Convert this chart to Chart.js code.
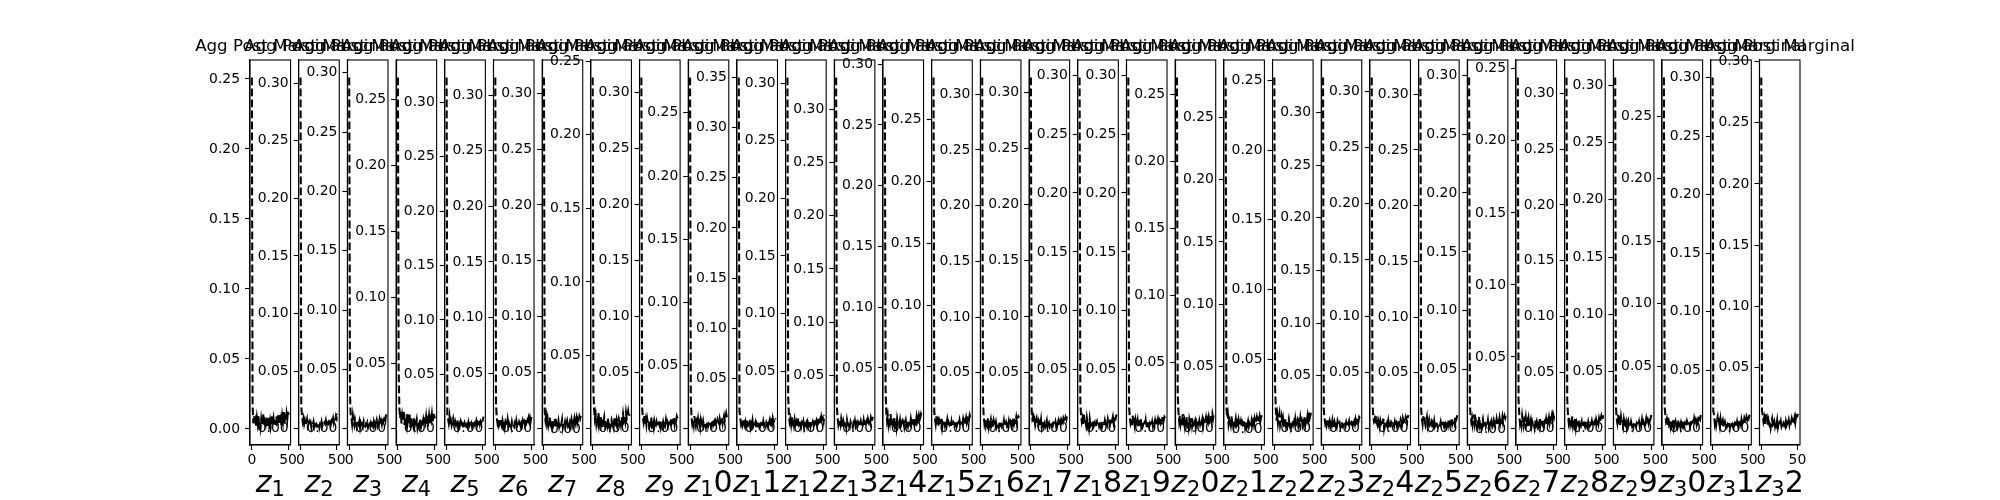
<!DOCTYPE html>
<html><head><meta charset="utf-8">
<script src="https://cdn.jsdelivr.net/npm/chart.js@4.4.0/dist/chart.umd.min.js"></script>
<style>
html,body{margin:0;padding:0;background:#fff;}
#fig{position:relative;width:2000px;height:500px;overflow:hidden;background:#fff;}
#fig canvas{position:absolute;top:0;}
</style></head><body><div id="fig"></div>
<script>
// ---- data ----
const panelTitle = 'Agg Post Marginal';
const xTicks = [0, 50];
const xLabels = ['z_1','z_2','z_3','z_4','z_5','z_6','z_7','z_8','z_9','z_10','z_11','z_12','z_13','z_14','z_15','z_16',
                 'z_17','z_18','z_19','z_20','z_21','z_22','z_23','z_24','z_25','z_26','z_27','z_28','z_29','z_30','z_31','z_32'];

const z1 = [0.251,0.018,0.004,0.009,0.003,0.006,0.002,0.008,0.004,0.010,0.003,0.005,0.001,0.007,0.003,0.004,0.011,0.002,0.005,0.003,0.008,0.002,0.004,0.009,0.003,0.006,0.001,0.004,0.010,0.003,0.007,0.002,0.005,0.004,0.009,0.002,0.006,0.003,0.011,0.004,0.007,0.002,0.009,0.005,0.012,0.004,0.008,0.006,0.011,0.007,0.013,0.010];
const z2 = [0.305,0.020,0.011,0.006,0.009,0.004,0.007,0.003,0.005,0.008,0.002,0.004,0.006,0.003,0.005,0.001,0.004,0.003,0.006,0.002,0.005,0.003,0.004,0.002,0.003,0.005,0.001,0.004,0.003,0.006,0.002,0.004,0.003,0.005,0.004,0.007,0.003,0.005,0.004,0.006,0.005,0.008,0.004,0.007,0.006,0.009,0.005,0.008,0.007,0.011,0.009,0.013];
const z3 = [0.296,0.030,0.012,0.009,0.004,0.011,0.006,0.003,0.008,0.005,0.002,0.007,0.004,0.003,0.006,0.001,0.005,0.003,0.004,0.002,0.006,0.003,0.002,0.004,0.003,0.005,0.001,0.003,0.004,0.002,0.005,0.003,0.004,0.002,0.006,0.003,0.005,0.004,0.007,0.003,0.006,0.004,0.008,0.005,0.007,0.004,0.009,0.006,0.008,0.010,0.007,0.012];
const z4 = [0.267,0.045,0.016,0.008,0.013,0.004,0.010,0.006,0.014,0.003,0.009,0.005,0.011,0.003,0.007,0.004,0.012,0.001,0.008,0.004,0.006,0.003,0.009,0.002,0.005,0.004,0.007,0.001,0.004,0.006,0.003,0.008,0.002,0.005,0.004,0.007,0.003,0.006,0.004,0.009,0.003,0.007,0.005,0.010,0.004,0.008,0.006,0.011,0.005,0.009,0.012,0.008];
const z5 = [0.323,0.012,0.009,0.005,0.011,0.004,0.007,0.003,0.006,0.009,0.004,0.002,0.006,0.003,0.005,0.008,0.001,0.004,0.003,0.006,0.002,0.005,0.003,0.004,0.001,0.005,0.003,0.002,0.004,0.003,0.006,0.002,0.004,0.003,0.005,0.002,0.004,0.006,0.003,0.005,0.004,0.007,0.003,0.006,0.005,0.008,0.004,0.007,0.006,0.009,0.008,0.011];
const z6 = [0.316,0.022,0.010,0.005,0.008,0.003,0.006,0.009,0.004,0.002,0.007,0.003,0.005,0.001,0.006,0.004,0.003,0.008,0.002,0.005,0.003,0.004,0.001,0.006,0.003,0.004,0.002,0.005,0.003,0.007,0.002,0.004,0.003,0.006,0.004,0.002,0.005,0.003,0.007,0.004,0.006,0.003,0.008,0.005,0.007,0.004,0.009,0.006,0.010,0.007,0.011,0.009];
const z7 = [0.314,0.015,0.008,0.012,0.005,0.009,0.003,0.007,0.010,0.004,0.006,0.002,0.008,0.003,0.005,0.009,0.001,0.006,0.004,0.003,0.007,0.002,0.005,0.003,0.004,0.008,0.001,0.005,0.003,0.006,0.002,0.004,0.007,0.003,0.005,0.002,0.006,0.004,0.008,0.003,0.006,0.005,0.009,0.004,0.007,0.010,0.005,0.008,0.006,0.011,0.009,0.012];
const z8 = [0.239,0.026,0.013,0.007,0.010,0.004,0.008,0.005,0.011,0.003,0.006,0.009,0.004,0.007,0.001,0.005,0.008,0.003,0.006,0.004,0.002,0.007,0.003,0.005,0.001,0.004,0.006,0.003,0.005,0.002,0.008,0.004,0.003,0.006,0.002,0.005,0.007,0.004,0.006,0.003,0.008,0.005,0.010,0.006,0.008,0.005,0.011,0.007,0.009,0.012,0.008,0.010];
const z9 = [0.313,0.019,0.010,0.006,0.012,0.004,0.008,0.003,0.009,0.005,0.007,0.002,0.006,0.004,0.010,0.003,0.005,0.001,0.007,0.004,0.003,0.006,0.002,0.004,0.005,0.003,0.007,0.001,0.004,0.003,0.006,0.002,0.005,0.003,0.008,0.004,0.006,0.003,0.007,0.005,0.004,0.009,0.005,0.007,0.006,0.010,0.004,0.008,0.007,0.011,0.009,0.010];
const z10 = [0.278,0.024,0.009,0.004,0.007,0.003,0.010,0.005,0.002,0.006,0.004,0.008,0.003,0.005,0.001,0.007,0.004,0.003,0.006,0.002,0.004,0.005,0.001,0.003,0.006,0.002,0.004,0.003,0.005,0.002,0.004,0.007,0.003,0.005,0.002,0.006,0.004,0.003,0.007,0.005,0.004,0.008,0.005,0.006,0.009,0.004,0.007,0.010,0.006,0.008,0.012,0.009];
const z11 = [0.350,0.017,0.011,0.005,0.008,0.003,0.006,0.010,0.004,0.007,0.002,0.005,0.009,0.003,0.004,0.006,0.001,0.005,0.003,0.008,0.002,0.004,0.003,0.006,0.001,0.005,0.003,0.004,0.002,0.006,0.003,0.005,0.004,0.002,0.007,0.003,0.005,0.004,0.006,0.003,0.008,0.004,0.006,0.009,0.005,0.007,0.004,0.010,0.006,0.008,0.011,0.009];
const z12 = [0.305,0.028,0.012,0.006,0.009,0.004,0.011,0.005,0.007,0.003,0.008,0.004,0.006,0.001,0.005,0.009,0.003,0.004,0.007,0.002,0.005,0.003,0.006,0.001,0.004,0.003,0.005,0.002,0.006,0.004,0.003,0.007,0.002,0.005,0.004,0.006,0.003,0.008,0.004,0.005,0.007,0.003,0.009,0.005,0.006,0.008,0.004,0.010,0.007,0.009,0.006,0.012];
const z13 = [0.330,0.021,0.010,0.004,0.008,0.006,0.003,0.009,0.005,0.002,0.007,0.004,0.003,0.006,0.001,0.008,0.004,0.003,0.005,0.002,0.006,0.003,0.004,0.001,0.005,0.003,0.007,0.002,0.004,0.006,0.003,0.005,0.002,0.004,0.007,0.003,0.005,0.004,0.008,0.003,0.006,0.005,0.007,0.004,0.009,0.006,0.008,0.005,0.010,0.007,0.009,0.011];
const z14 = [0.289,0.033,0.014,0.007,0.011,0.004,0.009,0.005,0.012,0.003,0.008,0.006,0.004,0.010,0.003,0.006,0.001,0.008,0.004,0.005,0.003,0.007,0.002,0.004,0.006,0.003,0.005,0.001,0.004,0.007,0.003,0.005,0.002,0.006,0.004,0.003,0.008,0.004,0.006,0.005,0.009,0.004,0.007,0.005,0.010,0.006,0.008,0.011,0.007,0.009,0.012,0.010];
const z15 = [0.284,0.014,0.008,0.004,0.010,0.003,0.006,0.002,0.007,0.005,0.003,0.008,0.001,0.005,0.004,0.006,0.002,0.004,0.003,0.007,0.002,0.005,0.003,0.004,0.001,0.006,0.003,0.002,0.005,0.004,0.003,0.006,0.002,0.004,0.005,0.003,0.007,0.004,0.005,0.006,0.004,0.008,0.005,0.007,0.006,0.009,0.005,0.008,0.010,0.007,0.011,0.009];
const z16 = [0.315,0.025,0.012,0.005,0.009,0.003,0.007,0.004,0.010,0.002,0.006,0.004,0.008,0.003,0.005,0.001,0.007,0.004,0.003,0.006,0.002,0.005,0.004,0.001,0.006,0.003,0.004,0.002,0.005,0.003,0.007,0.002,0.004,0.006,0.003,0.005,0.002,0.007,0.004,0.006,0.003,0.008,0.005,0.009,0.004,0.007,0.006,0.010,0.005,0.008,0.011,0.010];
const z17 = [0.313,0.016,0.009,0.011,0.005,0.008,0.003,0.006,0.009,0.004,0.002,0.007,0.005,0.003,0.008,0.001,0.004,0.006,0.003,0.005,0.002,0.004,0.007,0.001,0.003,0.005,0.002,0.004,0.006,0.003,0.002,0.005,0.004,0.003,0.006,0.002,0.005,0.004,0.007,0.003,0.006,0.004,0.008,0.006,0.005,0.009,0.007,0.006,0.010,0.008,0.012,0.011];
const z18 = [0.298,0.023,0.011,0.006,0.009,0.004,0.012,0.005,0.007,0.003,0.009,0.004,0.006,0.001,0.008,0.003,0.005,0.004,0.002,0.007,0.003,0.005,0.001,0.004,0.006,0.003,0.005,0.002,0.004,0.003,0.006,0.002,0.005,0.004,0.003,0.007,0.004,0.005,0.003,0.008,0.005,0.006,0.004,0.009,0.006,0.007,0.010,0.005,0.008,0.011,0.009,0.012];
const z19 = [0.298,0.020,0.010,0.005,0.008,0.003,0.011,0.004,0.006,0.002,0.008,0.005,0.003,0.007,0.001,0.005,0.004,0.009,0.003,0.006,0.002,0.004,0.005,0.003,0.007,0.001,0.004,0.003,0.006,0.002,0.005,0.004,0.003,0.006,0.002,0.005,0.004,0.007,0.003,0.006,0.005,0.008,0.004,0.007,0.005,0.009,0.006,0.008,0.011,0.007,0.010,0.009];
const z20 = [0.263,0.027,0.013,0.006,0.010,0.004,0.008,0.003,0.011,0.005,0.007,0.002,0.006,0.009,0.003,0.005,0.001,0.007,0.004,0.003,0.008,0.002,0.005,0.003,0.004,0.006,0.001,0.005,0.003,0.004,0.002,0.006,0.003,0.005,0.004,0.007,0.002,0.006,0.004,0.005,0.008,0.003,0.007,0.005,0.009,0.006,0.008,0.010,0.006,0.011,0.008,0.012];
const z21 = [0.282,0.018,0.009,0.012,0.004,0.008,0.006,0.003,0.010,0.005,0.007,0.002,0.006,0.004,0.008,0.003,0.005,0.001,0.007,0.004,0.003,0.006,0.002,0.005,0.003,0.004,0.007,0.001,0.004,0.005,0.003,0.006,0.002,0.005,0.004,0.003,0.007,0.004,0.006,0.003,0.008,0.005,0.006,0.009,0.005,0.008,0.007,0.010,0.006,0.009,0.011,0.012];
const z22 = [0.252,0.031,0.014,0.006,0.010,0.004,0.008,0.011,0.003,0.006,0.009,0.004,0.007,0.001,0.005,0.008,0.003,0.006,0.002,0.004,0.007,0.003,0.005,0.001,0.004,0.006,0.003,0.005,0.002,0.007,0.003,0.004,0.006,0.002,0.005,0.003,0.008,0.004,0.006,0.003,0.007,0.005,0.009,0.004,0.008,0.006,0.010,0.007,0.012,0.008,0.010,0.013];
const z23 = [0.333,0.019,0.010,0.005,0.008,0.003,0.006,0.009,0.004,0.007,0.002,0.005,0.003,0.008,0.004,0.001,0.006,0.003,0.005,0.002,0.007,0.004,0.003,0.005,0.001,0.004,0.006,0.002,0.003,0.005,0.004,0.002,0.006,0.003,0.005,0.004,0.007,0.002,0.005,0.006,0.004,0.008,0.005,0.007,0.004,0.009,0.006,0.008,0.010,0.007,0.011,0.010];
const z24 = [0.312,0.024,0.012,0.007,0.009,0.004,0.011,0.005,0.003,0.008,0.006,0.002,0.007,0.004,0.005,0.003,0.009,0.001,0.006,0.004,0.003,0.005,0.002,0.007,0.003,0.004,0.001,0.006,0.005,0.003,0.004,0.002,0.006,0.003,0.005,0.002,0.007,0.004,0.005,0.003,0.008,0.006,0.004,0.009,0.006,0.007,0.005,0.010,0.008,0.006,0.011,0.012];
const z25 = [0.315,0.017,0.009,0.004,0.011,0.005,0.007,0.003,0.006,0.010,0.002,0.005,0.008,0.003,0.004,0.006,0.001,0.005,0.003,0.007,0.002,0.004,0.006,0.003,0.001,0.005,0.004,0.003,0.006,0.002,0.004,0.005,0.003,0.007,0.002,0.005,0.004,0.006,0.003,0.008,0.004,0.006,0.005,0.009,0.004,0.007,0.008,0.005,0.010,0.007,0.009,0.012];
const z26 = [0.298,0.022,0.011,0.006,0.009,0.003,0.007,0.012,0.004,0.008,0.005,0.002,0.007,0.004,0.010,0.003,0.006,0.001,0.005,0.008,0.003,0.004,0.006,0.002,0.005,0.003,0.007,0.001,0.004,0.005,0.003,0.006,0.002,0.004,0.007,0.003,0.005,0.004,0.008,0.003,0.006,0.005,0.009,0.004,0.007,0.006,0.010,0.005,0.008,0.011,0.009,0.012];
const z27 = [0.244,0.020,0.010,0.004,0.007,0.003,0.009,0.005,0.002,0.006,0.004,0.008,0.003,0.005,0.001,0.007,0.004,0.003,0.006,0.002,0.005,0.003,0.004,0.001,0.006,0.003,0.005,0.002,0.004,0.003,0.007,0.002,0.005,0.004,0.003,0.006,0.002,0.005,0.004,0.007,0.003,0.006,0.005,0.008,0.004,0.007,0.006,0.009,0.005,0.010,0.008,0.011];
const z28 = [0.314,0.026,0.013,0.006,0.010,0.004,0.008,0.005,0.011,0.003,0.007,0.004,0.009,0.001,0.006,0.004,0.003,0.008,0.002,0.005,0.003,0.006,0.001,0.004,0.005,0.003,0.007,0.002,0.004,0.003,0.006,0.002,0.005,0.003,0.004,0.007,0.003,0.005,0.004,0.006,0.003,0.008,0.005,0.007,0.004,0.009,0.006,0.008,0.011,0.007,0.010,0.012];
const z29 = [0.307,0.021,0.009,0.005,0.012,0.004,0.007,0.003,0.010,0.005,0.006,0.002,0.008,0.004,0.003,0.006,0.001,0.005,0.007,0.003,0.004,0.002,0.006,0.003,0.005,0.001,0.004,0.006,0.003,0.002,0.005,0.004,0.003,0.006,0.002,0.005,0.004,0.008,0.003,0.006,0.004,0.007,0.005,0.009,0.006,0.008,0.005,0.010,0.007,0.009,0.012,0.010];
const z30 = [0.281,0.018,0.011,0.006,0.008,0.003,0.010,0.004,0.006,0.002,0.007,0.005,0.003,0.008,0.001,0.004,0.006,0.003,0.005,0.002,0.007,0.003,0.004,0.001,0.005,0.003,0.006,0.002,0.004,0.005,0.003,0.002,0.006,0.004,0.003,0.005,0.002,0.007,0.004,0.005,0.006,0.003,0.008,0.005,0.007,0.004,0.009,0.006,0.010,0.008,0.007,0.011];
const z31 = [0.300,0.015,0.012,0.005,0.009,0.003,0.007,0.010,0.004,0.006,0.002,0.008,0.003,0.005,0.007,0.001,0.004,0.006,0.003,0.005,0.002,0.004,0.003,0.006,0.001,0.005,0.003,0.004,0.002,0.006,0.003,0.005,0.004,0.002,0.006,0.003,0.007,0.004,0.005,0.003,0.008,0.005,0.006,0.004,0.009,0.007,0.005,0.010,0.008,0.011,0.009,0.012];
const z32 = [0.287,0.015,0.011,0.006,0.009,0.004,0.012,0.005,0.008,0.003,0.007,0.004,0.006,0.001,0.005,0.008,0.003,0.004,0.006,0.002,0.005,0.003,0.007,0.001,0.004,0.005,0.003,0.006,0.002,0.004,0.003,0.005,0.004,0.002,0.006,0.003,0.005,0.004,0.007,0.003,0.006,0.005,0.008,0.004,0.007,0.006,0.009,0.005,0.010,0.008,0.011,0.012];

const series = [z1,z2,z3,z4,z5,z6,z7,z8,z9,z10,z11,z12,z13,z14,z15,z16,z17,z18,z19,z20,z21,z22,z23,z24,z25,z26,z27,z28,z29,z30,z31,z32];

// ---- layout (matplotlib default subplot geometry on a 2000x500 figure) ----
const FONT = "'DejaVu Sans', sans-serif";
const N = series.length;
const figL = 250, figR = 1800, figT = 60, figB = 445, wspace = 0.2;
const axW = (figR - figL) / (N + (N - 1) * wspace);
const gap = axW * wspace;
const CW = 170, CH = 500;
const fig = document.getElementById('fig');

const framePlugin = {
  id: 'frame',
  afterDraw(chart) {
    const { ctx, chartArea: a } = chart;
    ctx.save();
    ctx.strokeStyle = '#000';
    ctx.lineWidth = 1.1;
    ctx.strokeRect(a.left, a.top, a.right - a.left, a.bottom - a.top);
    ctx.restore();
  }
};

const xlabPlugin = {
  id: 'xlab',
  afterDraw(chart, args, opts) {
    const { ctx, chartArea: a } = chart;
    const txt = opts.text || '';
    const m = txt.match(/^(.)_(.)(.*)$/);
    const base = m ? m[1] : txt, sub = m ? m[2] : '', rest = m ? m[3] : '';
    const mainFont = '30px ' + FONT, itFont = 'italic 30px ' + FONT, subFont = '21px ' + FONT;
    ctx.save();
    ctx.fillStyle = '#000';
    ctx.textBaseline = 'alphabetic';
    ctx.textAlign = 'left';
    ctx.font = itFont; const wb = ctx.measureText(base).width;
    ctx.font = subFont; const ws = ctx.measureText(sub).width;
    ctx.font = mainFont; const wr = ctx.measureText(rest).width;
    const total = wb + ws + wr;
    let x = (a.left + a.right) / 2 - total / 2;
    const yb = 492;
    ctx.font = itFont; ctx.fillText(base, x, yb); x += wb;
    ctx.font = subFont; ctx.fillText(sub, x, yb + 4); x += ws;
    ctx.font = mainFont; ctx.fillText(rest, x, yb);
    ctx.restore();
  }
};

series.forEach((arr, k) => {
  const L = figL + k * (axW + gap);
  const cLeft = Math.round(L + axW / 2 - CW / 2);
  const yW = L - cLeft;
  const rightW = CW - yW - axW;
  const cv = document.createElement('canvas');
  cv.width = CW; cv.height = CH;
  cv.style.left = cLeft + 'px';
  cv.style.width = CW + 'px'; cv.style.height = CH + 'px';
  fig.appendChild(cv);

  const n = arr.length;
  const dmin = Math.min(...arr), dmax = Math.max(...arr);
  const ym = 0.05 * (dmax - dmin);
  const xm = 0.05 * (n - 1);

  new Chart(cv, {
    type: 'line',
    data: {
      datasets: [{
        data: arr.map((v, i) => ({ x: i, y: v })),
        borderColor: '#000',
        borderWidth: 2.08,
        borderDash: [7.7, 3.3],
        pointRadius: 0,
        fill: false,
        tension: 0
      }]
    },
    options: {
      responsive: false,
      devicePixelRatio: 1,
      animation: false,
      events: [],
      layout: { padding: 0 },
      plugins: {
        legend: { display: false },
        tooltip: { enabled: false },
        title: {
          display: true,
          text: panelTitle,
          color: '#000',
          font: { family: FONT, size: 16.67, weight: 'normal', lineHeight: 1.2 },
          padding: { top: 37, bottom: 3 }
        },
        xlab: { text: xLabels[k] }
      },
      scales: {
        x: {
          type: 'linear',
          min: -xm, max: (n - 1) + xm,
          afterBuildTicks(s) { s.ticks = xTicks.map(v => ({ value: v })); },
          afterFit(s) { s.height = CH - figB; },
          ticks: { color: '#000', font: { family: FONT, size: 13.9 }, padding: 2, maxRotation: 0, minRotation: 0, autoSkip: false, callback: v => String(v) },
          grid: { drawOnChartArea: false, drawTicks: true, tickLength: 5, tickColor: '#000', tickWidth: 1.1 },
          border: { display: true, color: '#000', width: 1.1 }
        },
        y: {
          type: 'linear',
          position: 'left',
          min: dmin - ym, max: dmax + ym,
          afterBuildTicks(s) {
            const t = [];
            for (let j = Math.ceil(s.min / 0.05 - 1e-9); j * 0.05 <= s.max + 1e-9; j++) t.push({ value: Math.round(j * 5) / 100 });
            s.ticks = t;
          },
          afterFit(s) { s.width = yW; },
          ticks: { color: '#000', font: { family: FONT, size: 13.9 }, padding: 5, autoSkip: false, callback: v => Math.abs(v).toFixed(2) },
          grid: { drawOnChartArea: false, drawTicks: true, tickLength: 5, tickColor: '#000', tickWidth: 1.1 },
          border: { display: true, color: '#000', width: 1.1 }
        },
        spacer: {
          type: 'linear',
          position: 'right',
          display: true,
          afterFit(s) { s.width = rightW; },
          ticks: { display: false },
          grid: { display: false, drawTicks: false },
          border: { display: false }
        }
      }
    },
    plugins: [framePlugin, xlabPlugin]
  });
});
</script>
</body></html>
